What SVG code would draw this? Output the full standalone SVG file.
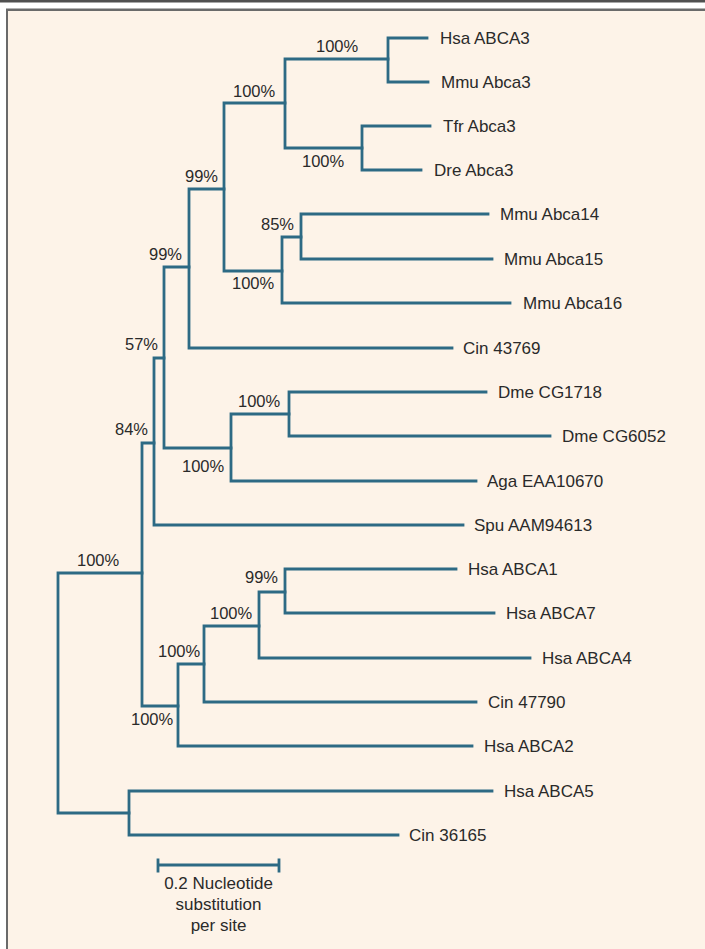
<svg xmlns="http://www.w3.org/2000/svg" width="705" height="949" viewBox="0 0 705 949">
<style>
.br{fill:none;stroke:#2D6A84;stroke-width:2.8;stroke-linecap:square;stroke-linejoin:miter}
.lab{font-family:"Liberation Sans",Arial,sans-serif;font-size:17px;fill:#2a2a2a}
.bs{font-family:"Liberation Sans",Arial,sans-serif;font-size:16.5px;fill:#2a2a2a}
.sc{font-family:"Liberation Sans",Arial,sans-serif;font-size:17px;fill:#2a2a2a;text-anchor:middle}
</style>
<rect x="0" y="0" width="705" height="949" fill="#ffffff"/>
<rect x="0" y="0" width="705" height="2.5" fill="#505050"/>
<rect x="7" y="9" width="698" height="940" fill="#FDF3E8"/>
<line x1="6" y1="9.8" x2="705" y2="9.8" stroke="#6a6a6a" stroke-width="2.5"/>
<line x1="7" y1="9" x2="7" y2="949" stroke="#6a6a6a" stroke-width="2"/>

<g id="connectors">
<path class="br" d="M388,38 H427 M388,82 H428 M388,38 V82"/>
<path class="br" d="M362,126 H430 M362,170 H421 M362,126 V170"/>
<path class="br" d="M285,59 H388 M285,148 H362 M285,59 V148"/>
<path class="br" d="M301,214 H488 M301,259 H492 M301,214 V259"/>
<path class="br" d="M282,237 H301 M282,303 H510 M282,237 V303"/>
<path class="br" d="M224,103 H285 M224,271 H282 M224,103 V271"/>
<path class="br" d="M189,189 H224 M189,348 H452 M189,189 V348"/>
<path class="br" d="M289,392 H486 M289,436 H550 M289,392 V436"/>
<path class="br" d="M231,414 H289 M231,481 H476 M231,414 V481"/>
<path class="br" d="M164,267 H189 M164,448 H231 M164,267 V448"/>
<path class="br" d="M154,358 H164 M154,525 H463 M154,358 V525"/>
<path class="br" d="M285,569 H456 M285,613 H494 M285,569 V613"/>
<path class="br" d="M259,592 H285 M259,658 H530 M259,592 V658"/>
<path class="br" d="M204,626 H259 M204,702 H476 M204,626 V702"/>
<path class="br" d="M178,664 H204 M178,746 H472 M178,664 V746"/>
<path class="br" d="M142,443 H154 M142,706 H178 M142,443 V706"/>
<path class="br" d="M129,791 H492 M129,835 H398 M129,791 V835"/>
<path class="br" d="M58,573 H142 M58,813 H129 M58,573 V813"/>
</g>

<g id="leaf-hsa-abca3"><text class="lab" x="440" y="44">Hsa ABCA3</text></g>
<g id="leaf-mmu-abca3"><text class="lab" x="441" y="88">Mmu Abca3</text></g>
<g id="leaf-tfr-abca3"><text class="lab" x="443" y="132">Tfr Abca3</text></g>
<g id="leaf-dre-abca3"><text class="lab" x="434" y="176">Dre Abca3</text></g>
<g id="leaf-mmu-abca14"><text class="lab" x="500" y="220">Mmu Abca14</text></g>
<g id="leaf-mmu-abca15"><text class="lab" x="504" y="265">Mmu Abca15</text></g>
<g id="leaf-mmu-abca16"><text class="lab" x="523" y="309">Mmu Abca16</text></g>
<g id="leaf-cin-43769"><text class="lab" x="463" y="354">Cin 43769</text></g>
<g id="leaf-dme-cg1718"><text class="lab" x="498" y="398">Dme CG1718</text></g>
<g id="leaf-dme-cg6052"><text class="lab" x="562" y="442">Dme CG6052</text></g>
<g id="leaf-aga-eaa10670"><text class="lab" x="487" y="487">Aga EAA10670</text></g>
<g id="leaf-spu-aam94613"><text class="lab" x="474" y="531">Spu AAM94613</text></g>
<g id="leaf-hsa-abca1"><text class="lab" x="468" y="575">Hsa ABCA1</text></g>
<g id="leaf-hsa-abca7"><text class="lab" x="506" y="619">Hsa ABCA7</text></g>
<g id="leaf-hsa-abca4"><text class="lab" x="542" y="664">Hsa ABCA4</text></g>
<g id="leaf-cin-47790"><text class="lab" x="488" y="708">Cin 47790</text></g>
<g id="leaf-hsa-abca2"><text class="lab" x="484" y="752">Hsa ABCA2</text></g>
<g id="leaf-hsa-abca5"><text class="lab" x="504" y="797">Hsa ABCA5</text></g>
<g id="leaf-cin-36165"><text class="lab" x="409" y="841">Cin 36165</text></g>

<g id="node-abca3-human-mouse"><text class="bs" x="316" y="52">100%</text></g>
<g id="node-abca3-fish"><text class="bs" x="302" y="167">100%</text></g>
<g id="node-abca3"><text class="bs" x="233" y="97">100%</text></g>
<g id="node-abca14-15"><text class="bs" x="261" y="230">85%</text></g>
<g id="node-abca14-16"><text class="bs" x="232" y="289">100%</text></g>
<g id="node-vertebrate"><text class="bs" x="185" y="182">99%</text></g>
<g id="node-chordate"><text class="bs" x="149" y="260">99%</text></g>
<g id="node-dme"><text class="bs" x="238" y="407">100%</text></g>
<g id="node-insect"><text class="bs" x="182" y="472">100%</text></g>
<g id="node-57"><text class="bs" x="125" y="350">57%</text></g>
<g id="node-84"><text class="bs" x="115" y="435">84%</text></g>
<g id="node-abca1-7"><text class="bs" x="245" y="583">99%</text></g>
<g id="node-abca1-4"><text class="bs" x="210" y="619">100%</text></g>
<g id="node-abca1-cin"><text class="bs" x="158" y="657">100%</text></g>
<g id="node-abca1-2"><text class="bs" x="131" y="725">100%</text></g>
<g id="node-root"><text class="bs" x="77" y="566">100%</text></g>

<g id="scale-bar">
<path class="br" d="M158,865 H279 M158,860 V871 M279,860 V871"/>
<text class="sc" x="218.5" y="889">0.2 Nucleotide</text>
<text class="sc" x="218.5" y="910">substitution</text>
<text class="sc" x="218.5" y="931">per site</text>
</g>
</svg>
